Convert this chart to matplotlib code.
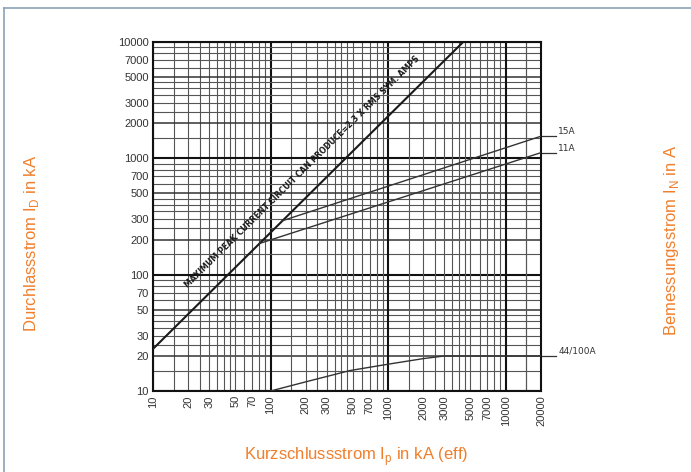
import numpy as np
import matplotlib as mpl
import matplotlib.pyplot as plt
from matplotlib.lines import Line2D

mpl.rcParams['font.family'] = ['Liberation Sans', 'DejaVu Sans']

# curves (x: kA eff, y: kA)
peak_x = [10, 4348]
peak_y = [23, 10000]
a15_x = [125, 20000]
a15_y = [290, 1550]
a11_x = [80, 20000]
a11_y = [185, 1120]
a44_x = [100, 200, 475, 1000, 2000, 3000, 20000]
a44_y = [10, 12, 15, 17, 19, 20, 20]

x_ticks = [10, 20, 30, 50, 70, 100, 200, 300, 500, 700, 1000, 2000, 3000,
           5000, 7000, 10000, 20000]
y_ticks = [10, 20, 30, 50, 70, 100, 200, 300, 500, 700, 1000, 2000, 3000,
           5000, 7000, 10000]
grid_subs = [1, 1.5, 2, 2.5, 3, 3.5, 4, 4.5, 5, 6, 7, 8, 9]

orange = '#F07F2C'

fig = plt.figure(figsize=(6.91, 4.72), dpi=100)
ax = fig.add_axes([0.2214, 0.1716, 0.5616, 0.7394])
ax.set_xscale('log')
ax.set_yscale('log')
ax.set_xlim(10, 20000)
ax.set_ylim(10, 10000)

# hand-drawn style grid
for dec in [10, 100, 1000, 10000]:
    for s in grid_subs:
        v = dec * s
        if v <= 20000:
            lw = 1.5 if s == 1 else 0.8
            col = '#111111' if s == 1 else '#555555'
            ax.axvline(v, color=col, lw=lw, zorder=1)
        if v <= 10000:
            if s == 1:
                lw, col = 1.5, '#111111'
            elif s in (2, 5):
                lw, col = 1.1, '#333333'
            else:
                lw, col = 0.8, '#555555'
            ax.axhline(v, color=col, lw=lw, zorder=1)
ax.axvline(15000, color='#555555', lw=0.8, zorder=1)

ax.plot(peak_x, peak_y, color='#1a1a1a', lw=1.5, zorder=3)
ax.plot(a15_x, a15_y, color='#333333', lw=1.0, zorder=3)
ax.plot(a11_x, a11_y, color='#333333', lw=1.0, zorder=3)
ax.plot(a44_x, a44_y, color='#333333', lw=1.0, zorder=3)

# leaders and labels on the right
for yv, lab in [(a15_y[-1], '15A'), (a11_y[-1], '11A'), (a44_y[-1], '44/100A')]:
    ax.plot([20000, 27000], [yv, yv], color='#333333', lw=0.9, clip_on=False)
    ax.text(28000, yv, lab, fontsize=6.5, color='#333333', ha='left',
            va='bottom', family=['DejaVu Sans'])

ax.text(185, 760, 'MAXIMUM PEAK CURRENT CIRCUIT CAN PRODUCE=2.3 X RMS SYM. AMPS',
        rotation=44.6, rotation_mode='anchor', ha='center', va='center',
        fontsize=5.7, fontweight='bold', color='#1a1a1a', zorder=4,
        family=['DejaVu Sans'])

ax.set_xticks(x_ticks)
ax.set_xticklabels([str(v) for v in x_ticks], rotation=90)
ax.set_yticks(y_ticks)
ax.set_yticklabels([str(v) for v in y_ticks])
ax.xaxis.set_minor_locator(mpl.ticker.NullLocator())
ax.yaxis.set_minor_locator(mpl.ticker.NullLocator())
ax.tick_params(length=0, labelsize=8, labelcolor='#333333', pad=3)
for sp in ax.spines.values():
    sp.set_linewidth(1.5)
    sp.set_color('#111111')

fig.text(0.515, 0.033, 'Kurzschlussstrom I$_\\mathregular{p}$ in kA (eff)',
         ha='center', va='center', fontsize=12, color=orange)
fig.text(0.045, 0.485, 'Durchlassstrom I$_\\mathregular{D}$ in kA', rotation=90,
         ha='center', va='center', fontsize=12, color=orange)
fig.text(0.972, 0.49, 'Bemessungsstrom I$_\\mathregular{N}$ in A', rotation=90,
         ha='center', va='center', fontsize=12, color=orange)

# frame of the figure box
fig.add_artist(Line2D([0.006, 1.0], [0.983, 0.983], color='#8AA2B8', lw=1.2))
fig.add_artist(Line2D([0.006, 0.006], [0.0, 0.983], color='#8AA2B8', lw=1.2))

fig.savefig('out.png', dpi=100)
